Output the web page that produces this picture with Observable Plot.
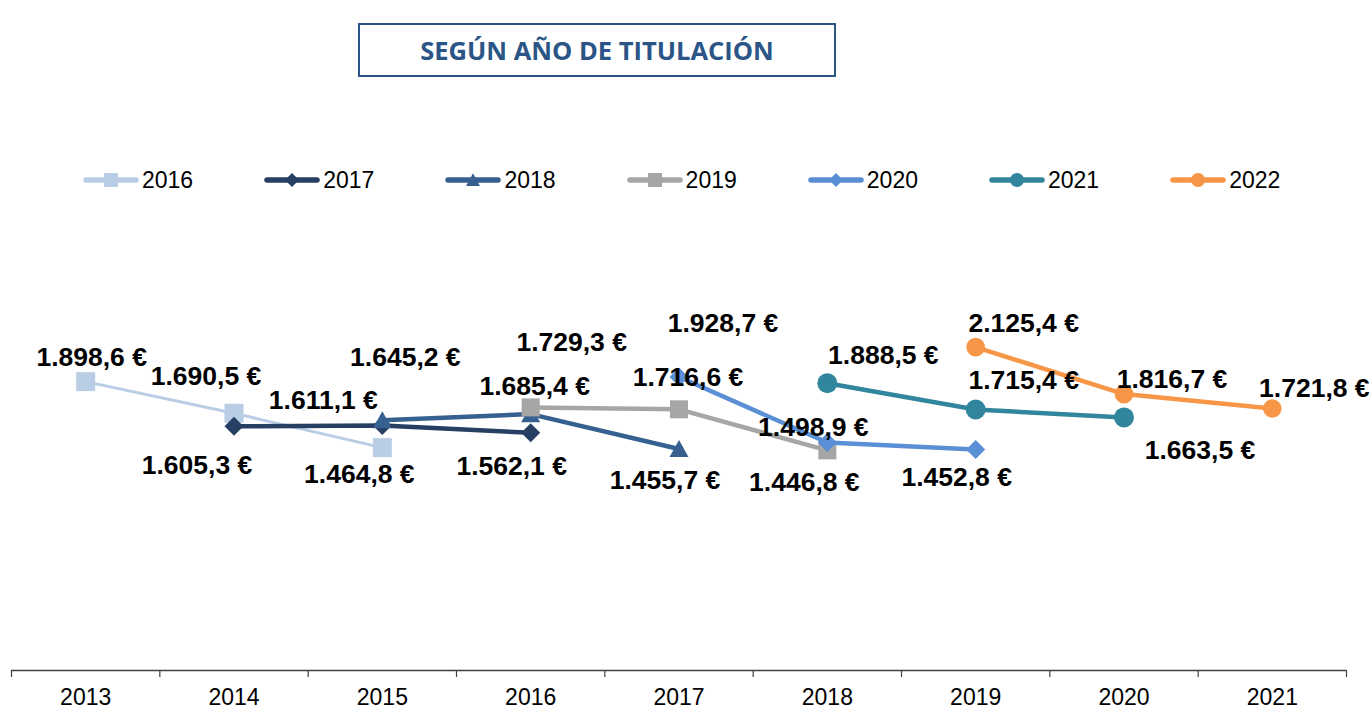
<!DOCTYPE html>
<html><head><meta charset="utf-8">
<script src="https://cdn.jsdelivr.net/npm/d3@7"></script>
<script src="https://cdn.jsdelivr.net/npm/@observablehq/plot@0.6"></script>
<style>
body{margin:0;background:#fff;width:1370px;height:714px;overflow:hidden;font-family:"Liberation Sans",Arial,sans-serif;position:relative}
#title{position:absolute;left:358px;top:23px;width:474px;height:50px;border:2px solid #2a5586;display:flex;align-items:center;justify-content:center;color:#2a5586;font:700 25.5px "Open Sans",sans-serif;}
#legend{position:absolute;left:0;top:165px;width:1370px;height:30px}
.item{position:absolute;top:0;height:30px;display:flex;align-items:center}
.item span{font-size:23px;color:#000;margin-left:2px}
#chart{position:absolute;left:0;top:210px}
</style></head>
<body>
<div id="title">SEGÚN AÑO DE TITULACIÓN</div>
<div id="legend"></div>
<div id="chart"></div>
<script>
// Categories (x axis)
const years = [2013, 2014, 2015, 2016, 2017, 2018, 2019, 2020, 2021];
// Series names (year of graduation)
const seriesNames = ["2016", "2017", "2018", "2019", "2020", "2021", "2022"];
// Each series: x years and values (€)
const x2016 = [2013, 2014, 2015]; const v2016 = [1898.6, 1690.5, 1464.8];
const x2017 = [2014, 2015, 2016]; const v2017 = [1605.3, 1611.1, 1562.1];
const x2018 = [2015, 2016, 2017]; const v2018 = [1645.2, 1685.4, 1455.7];
const x2019 = [2016, 2017, 2018]; const v2019 = [1729.3, 1716.6, 1446.8];
const x2020 = [2017, 2018, 2019]; const v2020 = [1928.7, 1498.9, 1452.8];
const x2021 = [2018, 2019, 2020]; const v2021 = [1888.5, 1715.4, 1663.5];
const x2022 = [2019, 2020, 2021]; const v2022 = [2125.4, 1816.7, 1721.8];

// styling (not data)
const colors = ["#b9cde5", "#263f63", "#36608f", "#a6a6a6", "#5a8fd6", "#31859c", "#f79646"];
const symbolKinds = ["square", "diamond", "triangle", "square", "diamond", "circle", "circle"];
const markerHalf = [9.5, 9.5, 9.5, 9, 9.5, 10, 9.3];
const lineWidths = [3, 4.5, 4.5, 4.5, 4.5, 4.5, 4.5];
// label offsets in pixels [dx, dy] per point
const labelOffsets = [
  [[6, -24], [-28, -37], [-23, 27]],
  [[-37, 39], [-59, -25], [-19, 34]],
  [[23, -63], [4, -28], [-14, 31]],
  [[41, -65], [9, -32], [-23, 32]],
  [[44, -54], [-14, -15], [-19, 28]],
  [[56, -28], [48, -29], [76, 33]],
  [[48, -24], [48, -15], [42, -20]]
];

const xs = [x2016, x2017, x2018, x2019, x2020, x2021, x2022];
const vs = [v2016, v2017, v2018, v2019, v2020, v2021, v2022];

const symSquare = {draw(c, size){const h = Math.sqrt(size)/2; c.moveTo(-h,-h); c.lineTo(h,-h); c.lineTo(h,h); c.lineTo(-h,h); c.closePath();}};
const symDiamond = {draw(c, size){const h = Math.sqrt(size)/2; c.moveTo(0,-h); c.lineTo(h,0); c.lineTo(0,h); c.lineTo(-h,0); c.closePath();}};
const symTriangle = {draw(c, size){const h = Math.sqrt(size)/2; c.moveTo(0,-h*0.95); c.lineTo(h,h*0.85); c.lineTo(-h,h*0.85); c.closePath();}};
const symFor = k => k === "square" ? symSquare : k === "diamond" ? symDiamond : k === "triangle" ? symTriangle : "circle";
const rFor = (k, half) => k === "circle" ? half : half * 2 / Math.sqrt(Math.PI);

const locale = d3.formatLocale({decimal: ",", thousands: ".", grouping: [3], currency: ["", ""]});
const fmt = v => locale.format(",.1f")(v) + " €";

const rows = [];
seriesNames.forEach((s, i) => xs[i].forEach((x, j) => rows.push({series: s, i, j, year: x, value: vs[i][j]})));

const edges = years.map(y => y - 0.5).concat([years[years.length - 1] + 0.5]);

const marks = [
  Plot.axisX({ticks: edges, tickFormat: () => "", tickSize: 7, stroke: "#404040", strokeWidth: 1.2, label: null}),
  Plot.axisX({ticks: years, tickSize: 0, tickPadding: 18, fontSize: 23, fill: "#000", tickFormat: d => String(d), label: null, fontFamily: "Liberation Sans, Arial, sans-serif"}),
  Plot.ruleY([0], {stroke: "#404040", strokeWidth: 1.3})
];
seriesNames.forEach((s, i) => {
  const d = rows.filter(r => r.i === i);
  marks.push(Plot.line(d, {x: "year", y: "value", stroke: colors[i], strokeWidth: lineWidths[i], strokeLinejoin: "round", strokeLinecap: "round"}));
  marks.push(Plot.dot(d, {x: "year", y: "value", fill: colors[i], stroke: "none", symbol: symFor(symbolKinds[i]), r: rFor(symbolKinds[i], markerHalf[i])}));
});
rows.forEach(r => {
  const [dx, dy] = labelOffsets[r.i][r.j];
  marks.push(Plot.text([r], {x: "year", y: "value", text: d => fmt(d.value), dx, dy, fontSize: 26.5, fontWeight: "bold", fill: "#000", fontFamily: "Liberation Sans, Arial, sans-serif"}));
});

const chart = Plot.plot({
  width: 1370, height: 504,
  marginLeft: 11, marginRight: 24, marginTop: 34, marginBottom: 44,
  style: {background: "transparent", overflow: "visible", fontFamily: "Liberation Sans, Arial, sans-serif"},
  x: {type: "linear", domain: [2012.5, 2021.5], label: null},
  y: {domain: [0, 2800], axis: null},
  marks
});
document.getElementById("chart").appendChild(chart);

// Legend
const legend = document.getElementById("legend");
seriesNames.forEach((s, i) => {
  const item = document.createElement("div");
  item.className = "item";
  item.style.left = (82 + i * 181.2) + "px";
  const svg = d3.create("svg").attr("width", 58).attr("height", 30);
  svg.append("line").attr("x1", 4).attr("x2", 54).attr("y1", 15).attr("y2", 15)
    .attr("stroke", colors[i]).attr("stroke-width", 5.5).attr("stroke-linecap", "round");
  const kind = symbolKinds[i];
  const half = 7;
  const sym = kind === "circle" ? d3.symbolCircle : symFor(kind);
  const size = kind === "circle" ? Math.PI * half * half : (2 * half) * (2 * half);
  svg.append("path").attr("transform", "translate(29,15)").attr("d", d3.symbol(sym, size)()).attr("fill", colors[i]);
  item.appendChild(svg.node());
  const t = document.createElement("span");
  t.textContent = s;
  item.appendChild(t);
  legend.appendChild(item);
});
</script>
</body></html>
